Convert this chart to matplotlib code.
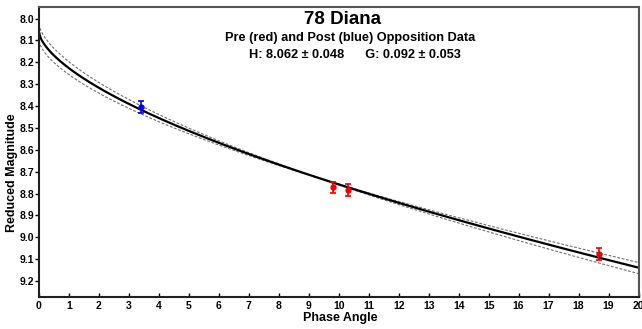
import numpy as np
import matplotlib
matplotlib.use("Agg")
import matplotlib.pyplot as plt

plt.rcParams['font.family'] = ['Liberation Sans', 'DejaVu Sans']
plt.rcParams['font.weight'] = 'bold'

# Fit parameters
H = 8.062
G = 0.092
H_err_txt = 0.048
G_err_txt = 0.053
# dashed envelope curves (H, G)
band_H = [8.024, 8.100]
band_G = [0.046, 0.138]

# Observations
alpha_post = [3.40]
mag_post = [8.405]
err_post = [0.027]

alpha_pre = [9.81, 10.30, 18.67]
mag_pre = [8.772, 8.783, 9.077]
err_pre = [0.026, 0.027, 0.027]

x_ticks = list(range(0, 21))
y_ticks = [8.0, 8.1, 8.2, 8.3, 8.4, 8.5, 8.6, 8.7, 8.8, 8.9, 9.0, 9.1, 9.2]


def hg_mag(alpha_deg, h, g):
    t = np.tan(np.radians(alpha_deg) / 2.0)
    phi1 = np.exp(-3.33 * t ** 0.63)
    phi2 = np.exp(-1.87 * t ** 1.22)
    return h - 2.5 * np.log10((1 - g) * phi1 + g * phi2)


fig = plt.figure(figsize=(6.42, 3.29), dpi=100)
ax = fig.add_axes([39 / 642, 1 - 297 / 329, (638.5 - 39) / 642, (297 - 7) / 329])

a = np.linspace(0, 20, 400)
for bh, bg in zip(band_H, band_G):
    ax.plot(a, hg_mag(a, bh, bg), color='#707070', lw=0.8, ls=(0, (2.5, 1.5)))
ax.plot(a, hg_mag(a, H, G), color='black', lw=1.6)

ax.errorbar(alpha_post, mag_post, yerr=err_post, fmt='o', color='#0000ee',
            ms=3.5, elinewidth=1.2, capsize=2.5, capthick=1.2, zorder=5)
ax.errorbar(alpha_pre, mag_pre, yerr=err_pre, fmt='o', color='#ee0000',
            ms=3.5, elinewidth=1.2, capsize=2.5, capthick=1.2, zorder=5)

ax.set_xlim(0, 20)
ax.set_ylim(9.273, 7.947)
ax.set_xticks(x_ticks)
ax.set_xticklabels([str(v) for v in x_ticks])
ax.set_yticks(y_ticks)
ax.set_yticklabels([f"{v:.1f}" for v in y_ticks])
ax.tick_params(axis='x', direction='in', length=3, width=1, labelsize=7.5, pad=3)
ax.tick_params(axis='y', direction='out', length=3, width=1, labelsize=7.5, pad=0.5)
for lab in ax.get_xticklabels() + ax.get_yticklabels():
    lab.set_fontweight('bold')
for s in ['left', 'bottom']:
    ax.spines[s].set_color('#202020')
    ax.spines[s].set_linewidth(1.5)
for s in ['top', 'right']:
    ax.spines[s].set_color('#555555')
    ax.spines[s].set_linewidth(1.5)

fig.text(343 / 642, 1 - 20 / 329, "78 Diana", ha='center', va='center',
         fontsize=13.5, fontweight='bold')
fig.text(350 / 642, 1 - 38 / 329, "Pre (red) and Post (blue) Opposition Data",
         ha='center', va='center', fontsize=9.2, fontweight='bold')
fig.text(355 / 642, 1 - 55 / 329,
         f"H: {H:.3f} \u00b1 {H_err_txt:.3f}      G: {G:.3f} \u00b1 {G_err_txt:.3f}",
         ha='center', va='center', fontsize=9.2, fontweight='bold')

fig.text(340 / 642, 1 - 318 / 329, "Phase Angle", ha='center', va='center',
         fontsize=9, fontweight='bold')
fig.text(12 / 642, 1 - 173 / 329, "Reduced Magnitude", ha='center', va='center',
         rotation=90, fontsize=9, fontweight='bold')

fig.savefig("out.png", dpi=100)
